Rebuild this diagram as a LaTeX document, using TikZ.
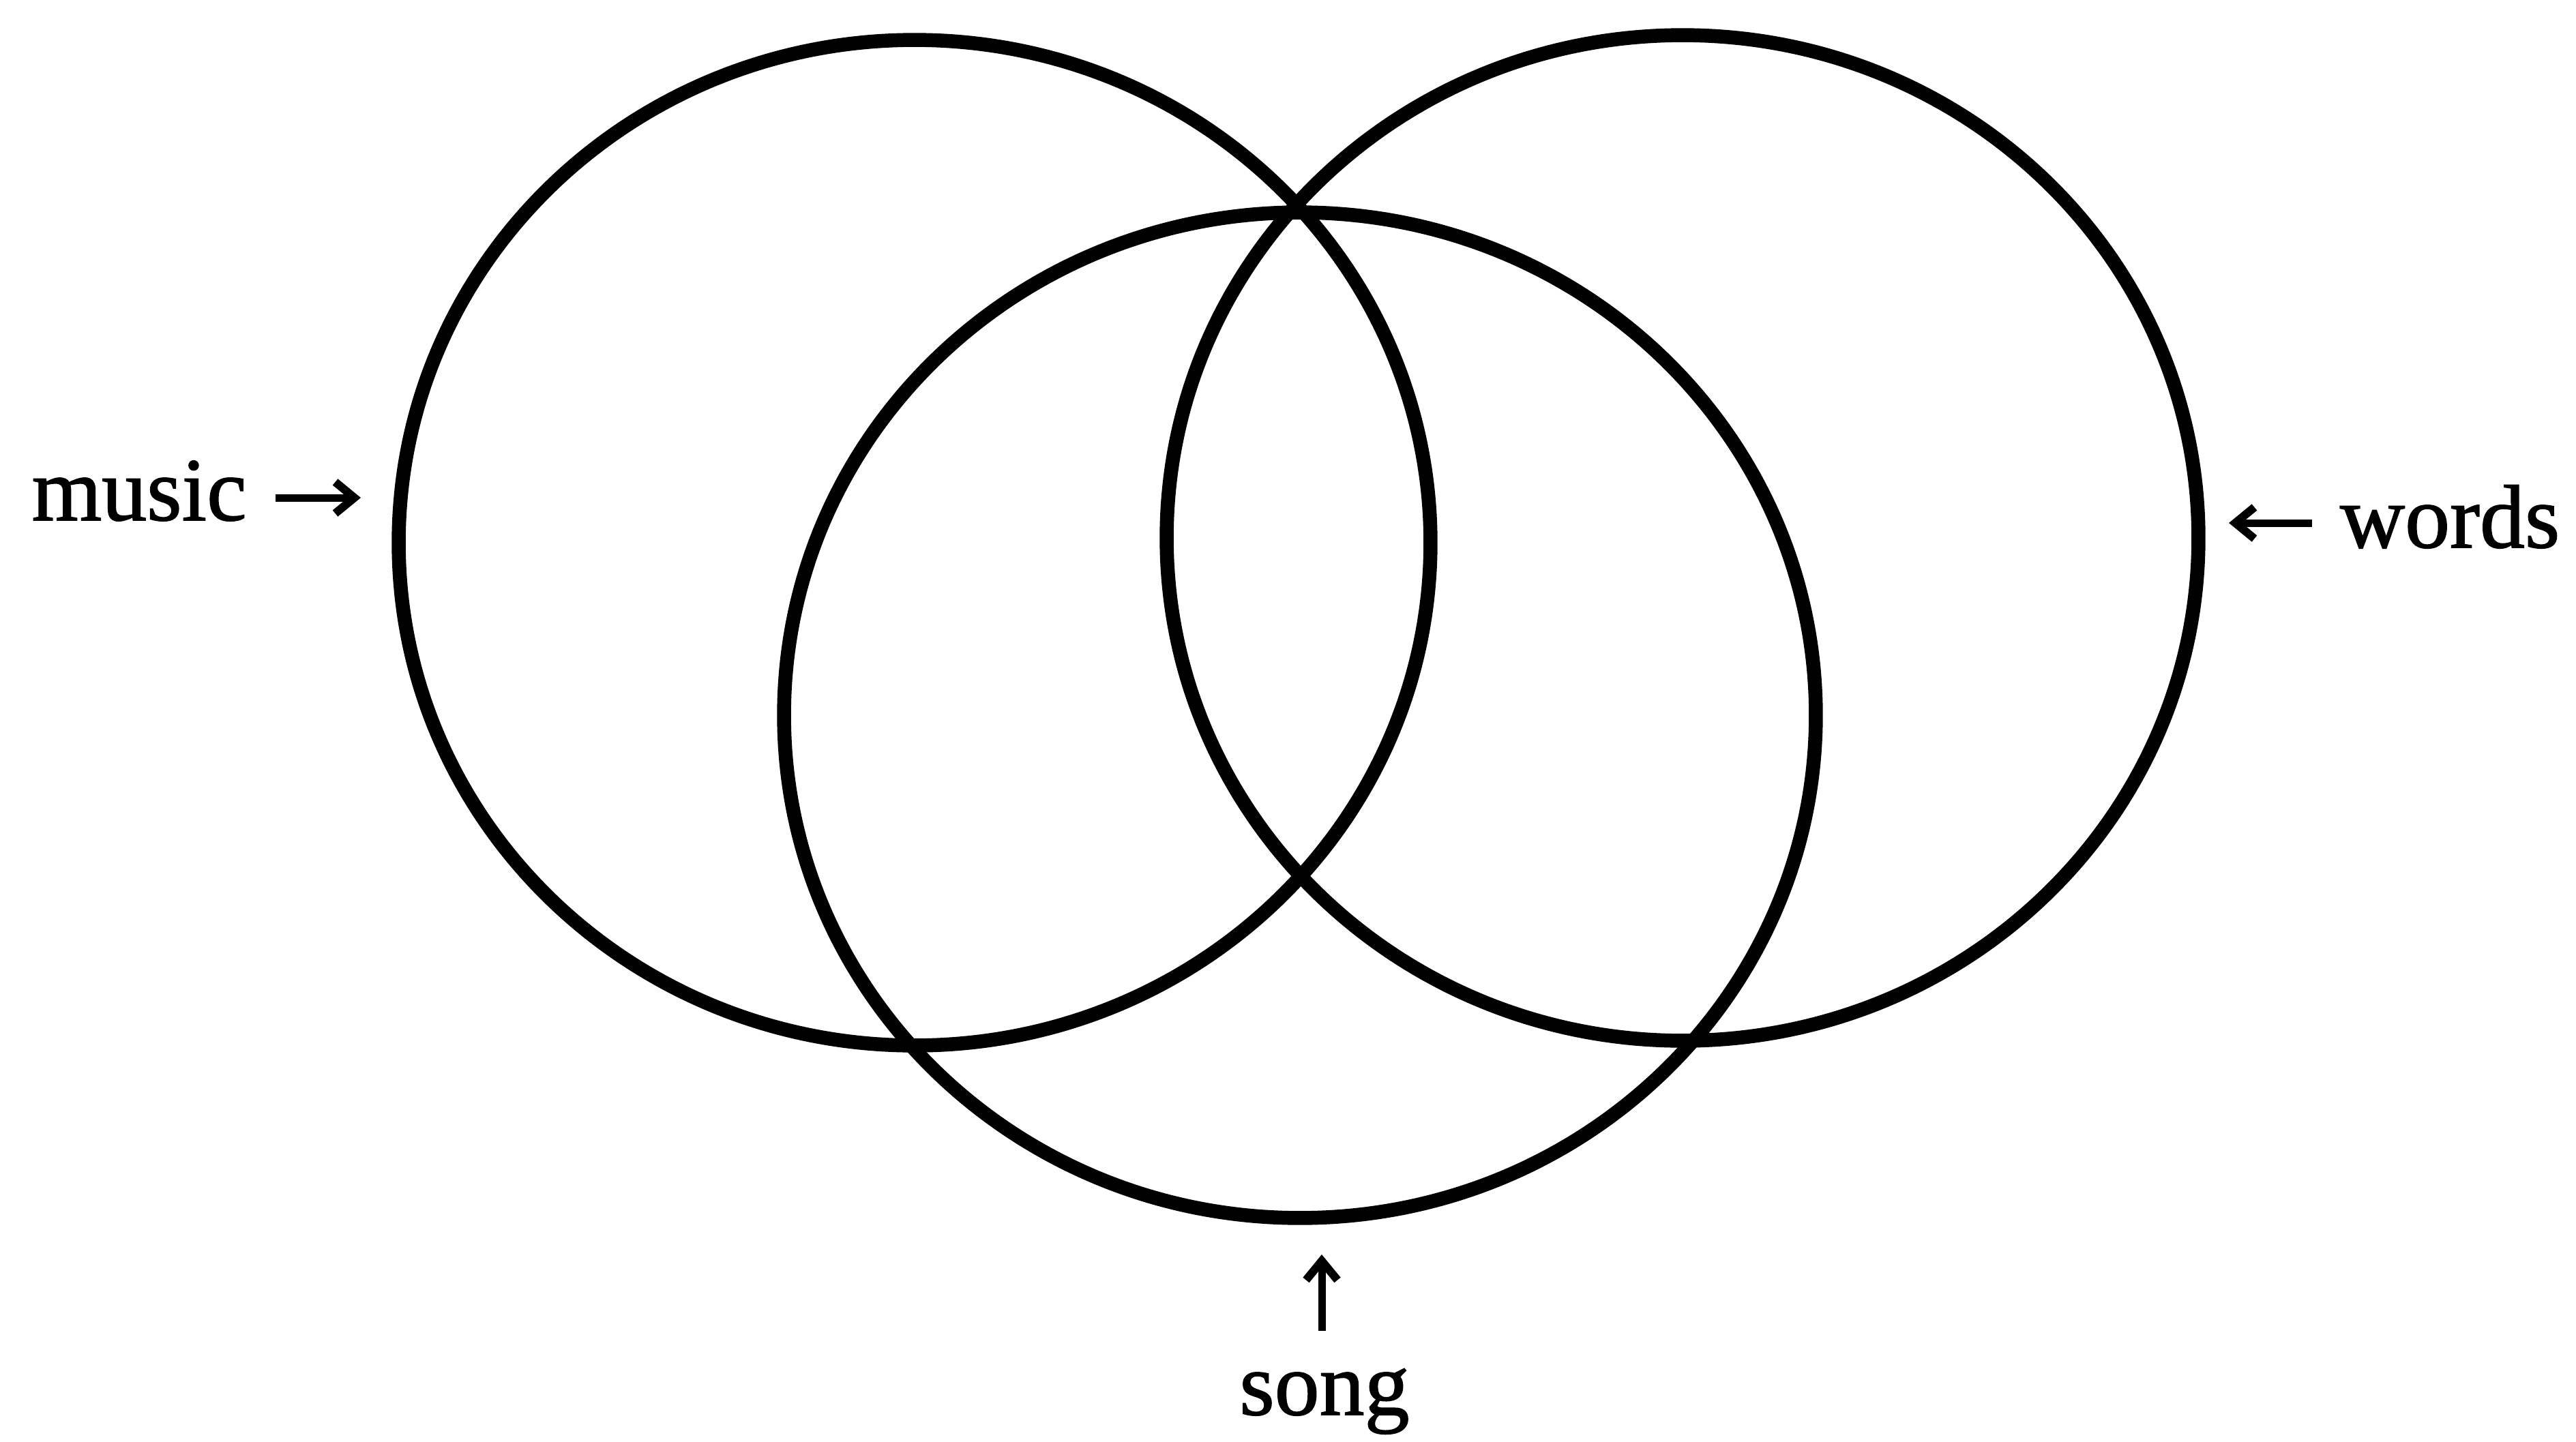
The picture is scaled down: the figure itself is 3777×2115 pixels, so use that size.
\documentclass[tikz,border=0pt]{standalone}
\usepackage{fontspec}
\setmainfont[FakeBold=1.2,AutoFakeBold=1.2]{Liberation Serif}
\usetikzlibrary{arrows.meta,shapes.geometric}
\begin{document}
\begin{tikzpicture}[x=0.01cm,y=-0.01cm,
  ring/.style={draw=black, ellipse, line width=0.205cm, inner sep=0pt,
    minimum width=15.12cm, minimum height=14.74cm},
  lbl/.style={inner sep=0pt, font=\fontsize{37.5pt}{45pt}\selectfont\bfseries},
  ptr/.style={line width=0.11cm, -{Straight Barb[length=0.28cm,width=0.46cm,line width=0.12cm]}}]
\useasboundingbox (0,0) rectangle (3777,2115);
\node[ring] (music) at (1341,796) {};
\node[ring] (words) at (2467,789) {};
\node[ring] (song)  at (1906,1049) {};
\node[lbl, anchor=base west] (musiclbl) at (46,763) {music};
\node[lbl, anchor=base east] (wordslbl) at (3754,803) {words};
\node[lbl, anchor=base] (songlbl) at (1942,2075) {song};
\coordinate (mtail) at (404,730);
\coordinate (mtip)  at (529,730);
\coordinate (wtail) at (3390,767);
\coordinate (wtip)  at (3268,767);
\coordinate (stail) at (1938,1952);
\coordinate (stip)  at (1938,1840);
\draw[ptr] (mtail) -- (mtip);
\draw[ptr] (wtail) -- (wtip);
\draw[ptr] (stail) -- (stip);
\end{tikzpicture}
\end{document}
